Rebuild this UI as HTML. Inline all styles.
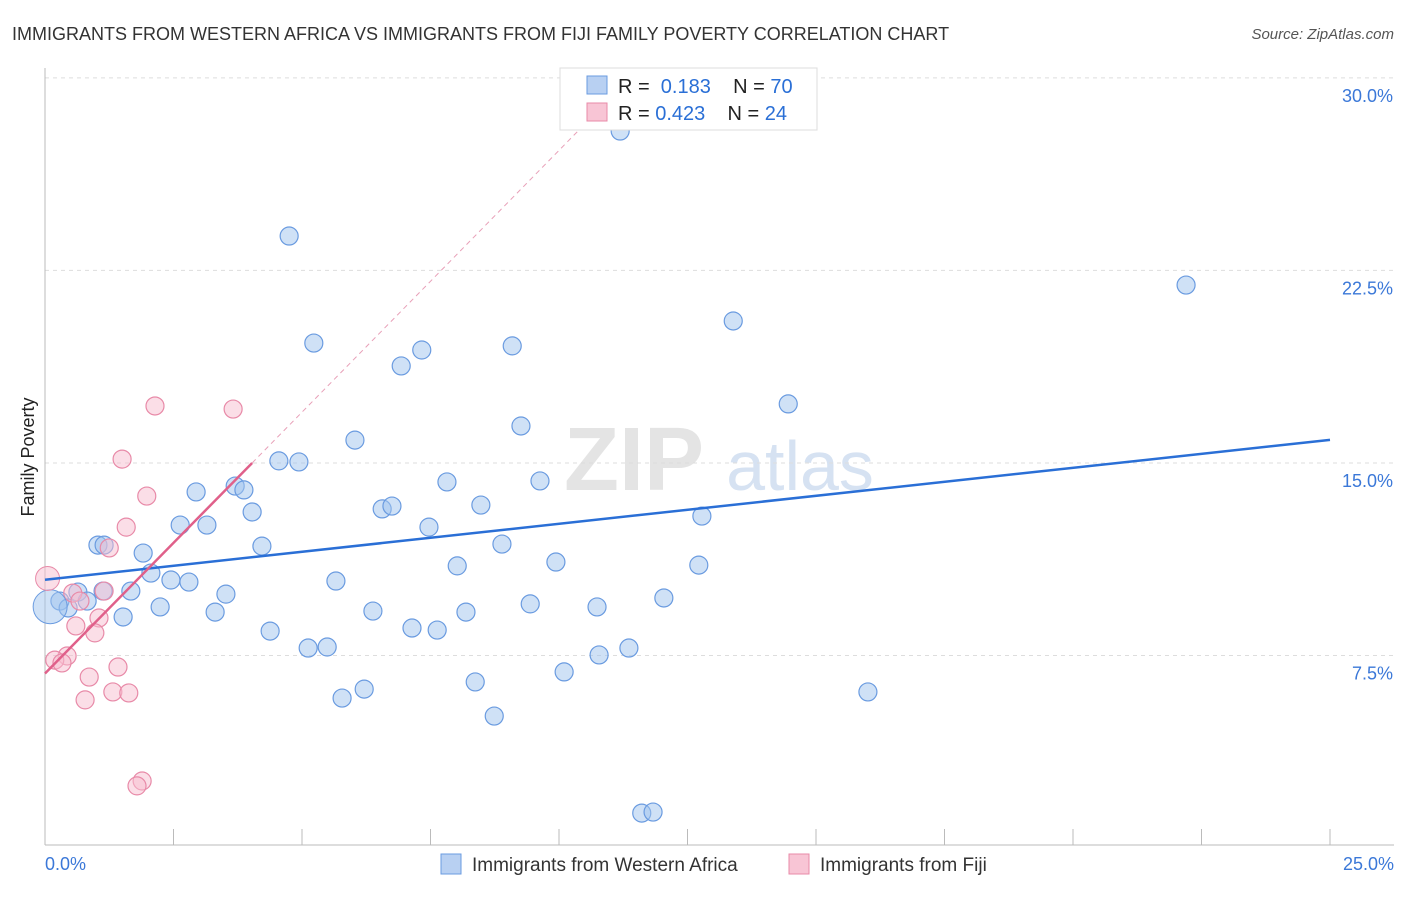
<!DOCTYPE html>
<html><head><meta charset="utf-8"><style>
body{margin:0;background:#fff;font-family:"Liberation Sans",sans-serif}
svg text{font-family:"Liberation Sans",sans-serif}
</style></head><body>
<svg id="c" width="1406" height="892">
<text x="12" y="40" font-size="18" fill="#333">IMMIGRANTS FROM WESTERN AFRICA VS IMMIGRANTS FROM FIJI FAMILY POVERTY CORRELATION CHART</text>
<text x="1394" y="39" font-size="15" fill="#555" text-anchor="end" font-style="italic">Source: ZipAtlas.com</text>
<text x="34" y="457" font-size="18" fill="#222" text-anchor="middle" transform="rotate(-90 34 457)">Family Poverty</text>
<text x="634" y="490" font-size="90" fill="#e4e4e4" font-family="Liberation Serif" text-anchor="middle" font-weight="bold">ZIP</text>
<text x="800" y="490" font-size="70" fill="#d6e2f2" text-anchor="middle">atlas</text>
<g id="grid"></g><g id="axes"></g><g id="pts"></g><g id="lines"></g>
<g>
<rect x="560" y="68" width="257" height="62" fill="#fff" stroke="#ddd"/>
<rect x="587" y="76" width="20" height="18" fill="#b8d0f2" stroke="#6a9be0"/>
<rect x="587" y="103" width="20" height="18" fill="#f8c5d5" stroke="#e88aa8"/>
<text x="618" y="93" font-size="20" fill="#222">R = <tspan fill="#2a6fd6">&#160;0.183</tspan>&#160;&#160;&#160;&#160;N = <tspan fill="#2a6fd6">70</tspan></text>
<text x="618" y="120" font-size="20" fill="#222">R = <tspan fill="#2a6fd6">0.423</tspan>&#160;&#160;&#160;&#160;N = <tspan fill="#2a6fd6">24</tspan></text>
</g>
<g>
<rect x="441" y="854" width="20" height="20" fill="#b8d0f2" stroke="#6a9be0"/>
<text x="472" y="871" font-size="19" fill="#333">Immigrants from Western Africa</text>
<rect x="789" y="854" width="20" height="20" fill="#f8c5d5" stroke="#e88aa8"/>
<text x="820" y="871" font-size="19" fill="#333">Immigrants from Fiji</text>
</g>
</svg>
<script>
const yTicks=[7.5,15,22.5,30];
const yTickLabels=["7.5%","15.0%","22.5%","30.0%"];
const xTickLabels=["0.0%","25.0%"];
const bluePx=[[620,131],[289,236],[1186,285],[733,321],[314,343],[512,346],[422,350],[401,366],[788,404],[521,426],[355,440],[279,461],[299,462],[447,482],[540,481],[235,486],[244,490],[196,492],[481,505],[382,509],[392,506],[252,512],[702,516],[180,525],[207,525],[429,527],[98,545],[104,545],[262,546],[502,544],[143,553],[556,562],[699,565],[457,566],[151,573],[336,581],[171,580],[189,582],[131,591],[103,591],[78,592],[226,594],[87,601],[60,601],[664,598],[530,604],[160,607],[597,607],[373,611],[466,612],[215,612],[68,608],[123,617],[270,631],[412,628],[437,630],[308,648],[327,647],[629,648],[599,655],[564,672],[364,689],[342,698],[475,682],[868,692],[494,716],[642,813],[653,812]];
const pinkPx=[[155,406],[233,409],[122,459],[147,496],[126,527],[109,548],[104,591],[73,593],[80,601],[99,618],[76,626],[95,633],[67,656],[55,660],[62,663],[118,667],[89,677],[113,692],[129,693],[85,700],[142,781],[137,786]];
// convert reading to data units (%)
const toX=p=>(p-45)/51.4, toY=p=>(848-p)/25.67;
const blueX=bluePx.map(p=>+toX(p[0]).toFixed(2)), blueY=bluePx.map(p=>+toY(p[1]).toFixed(2));
const pinkX=pinkPx.map(p=>+toX(p[0]).toFixed(2)), pinkY=pinkPx.map(p=>+toY(p[1]).toFixed(2));
const blueLine=[[0,10.45],[25,15.9]], pinkLine=[[0,6.8],[4.03,15.0]], pinkDash=[4.03,15.0,10.6,28.4];
const sx=v=>45+v*51.4, sy=v=>848-v*25.67;
const NS="http://www.w3.org/2000/svg";
function mk(t,a,parent){const e=document.createElementNS(NS,t);for(const k in a)e.setAttribute(k,a[k]);document.getElementById(parent).appendChild(e);return e;}
yTicks.forEach((t,i)=>{
 const l=mk('line',{x1:45,x2:1394,y1:sy(t),y2:sy(t),stroke:'#ddd','stroke-dasharray':'4,4'},'grid');
 
 
 const tx=mk('text',{x:1393,y:sy(t)+24,'font-size':18,fill:'#3b78d8','text-anchor':'end'},'grid');
 tx.textContent=yTickLabels[i];
 
 
});
const ya=mk('line',{x1:45,x2:45,y1:68,y2:845,stroke:'#bbb'},'axes');


const xa=mk('line',{x1:45,x2:1394,y1:845,y2:845,stroke:'#bbb'},'axes');


for(let i=0;i<=10;i++){const tk=mk('line',{x1:sx(i*2.5),x2:sx(i*2.5),y1:829,y2:845,stroke:'#bbb'},'axes');
 
 }
const xl0=mk('text',{x:45,y:870,'font-size':18,fill:'#3b78d8'},'axes');xl0.textContent=xTickLabels[0];


const xl1=mk('text',{x:1394,y:870,'font-size':18,fill:'#3b78d8','text-anchor':'end'},'axes');xl1.textContent=xTickLabels[1];


blueX.forEach((x,i)=>{const c=mk('circle',{cx:sx(x),cy:sy(blueY[i]),r:9,fill:'rgba(160,195,238,0.5)',stroke:'#6a9be0','stroke-width':1.2},'pts');
 
 });
pinkX.forEach((x,i)=>{const c=mk('circle',{cx:sx(x),cy:sy(pinkY[i]),r:9,fill:'rgba(248,190,208,0.5)',stroke:'#e88aa8','stroke-width':1.2},'pts');
 
 });
const big1=mk('circle',{cx:sx(0.1),cy:sy(9.4),r:17,fill:'rgba(160,195,238,0.5)',stroke:'#6a9be0'},'pts');


const big2=mk('circle',{cx:sx(0.05),cy:sy(10.5),r:12,fill:'rgba(248,190,208,0.5)',stroke:'#e88aa8'},'pts');


const bl=mk('line',{x1:sx(blueLine[0][0]),y1:sy(blueLine[0][1]),x2:sx(blueLine[1][0]),y2:sy(blueLine[1][1]),stroke:'#2a6fd6','stroke-width':2.5},'lines');


const pl=mk('line',{x1:sx(pinkLine[0][0]),y1:sy(pinkLine[0][1]),x2:sx(pinkLine[1][0]),y2:sy(pinkLine[1][1]),stroke:'#e0608a','stroke-width':2.5},'lines');


const pd=mk('line',{x1:sx(pinkDash[0]),y1:sy(pinkDash[1]),x2:sx(pinkDash[2]),y2:sy(pinkDash[3]),stroke:'#e8a0b8','stroke-width':1,'stroke-dasharray':'5,4'},'lines');


</script>
</body></html>
